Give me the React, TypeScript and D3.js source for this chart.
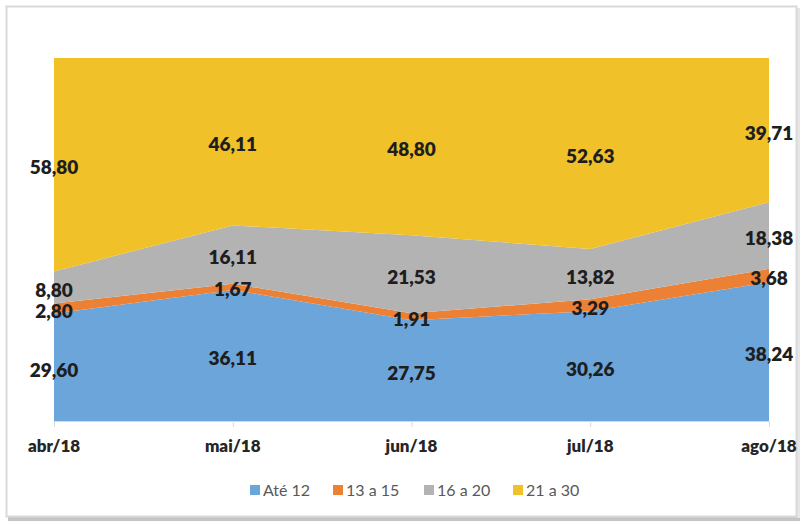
import React from "react";
import * as d3 from "d3";

const months = ["abr/18", "mai/18", "jun/18", "jul/18", "ago/18"];
const seriesNames = ["Até 12", "13 a 15", "16 a 20", "21 a 30"];
const ate12 = [29.6, 36.11, 27.75, 30.26, 38.24];
const a13a15 = [2.8, 1.67, 1.91, 3.29, 3.68];
const a16a20 = [8.8, 16.11, 21.53, 13.82, 18.38];
const a21a30 = [58.8, 46.11, 48.8, 52.63, 39.71];
const colors = ["#6CA5D9", "#EC8034", "#B3B3B3", "#F1C12A"];

const W = 803;
const H = 525;
const plot = { left: 54, right: 769, top: 58, bottom: 421 };

const fmt = (v: number) => v.toFixed(2).replace(".", ",");

export default function App() {
  const seriesValues = [ate12, a13a15, a16a20, a21a30];
  const rows = months.map((m, i) => {
    const r: any = { month: m };
    seriesNames.forEach((s, j) => (r[s] = seriesValues[j][i]));
    return r;
  });
  const stack = d3.stack<any>().keys(seriesNames).offset(d3.stackOffsetExpand);
  const stacked = stack(rows);

  const x = d3.scalePoint<string>().domain(months).range([plot.left, plot.right]);
  const y = d3.scaleLinear().domain([0, 1]).range([plot.bottom, plot.top]);

  const area = d3
    .area<any>()
    .x((d) => x(d.data.month) as number)
    .y0((d) => y(d[0]))
    .y1((d) => y(d[1]));

  const legendX = [250, 333, 424, 513];
  const font = "Lato, 'Open Sans', sans-serif";

  return (
    <svg
      width={W}
      height={H}
      style={{ position: "absolute", left: 0, top: 0, background: "#fff" }}
    >
      <rect x={0} y={0} width={W} height={H} fill="#fff" />
      {/* frame with shadow */}
      <rect x={8} y={516} width={792} height={5} fill="#c4c4c4" />
      <rect x={797} y={8} width={3} height={510} fill="#e6e6e6" />
      <rect x={6.5} y={6.5} width={790} height={510} fill="#fff" stroke="#d9d9d9" strokeWidth={2} />

      {stacked.map((s, i) => (
        <path key={s.key} d={area(s as any) || ""} fill={colors[i]} />
      ))}

      {/* axis */}
      <line x1={plot.left} x2={plot.right} y1={plot.bottom + 0.5} y2={plot.bottom + 0.5} stroke="#d9d9d9" />
      {months.map((m) => (
        <line
          key={"t" + m}
          x1={(x(m) as number) + 0.5}
          x2={(x(m) as number) + 0.5}
          y1={plot.bottom}
          y2={plot.bottom + 6}
          stroke="#d9d9d9"
        />
      ))}
      {months.map((m) => (
        <text
          key={"l" + m}
          x={x(m) as number}
          y={452}
          textAnchor="middle"
          fontFamily={font}
          fontWeight={800}
          fontSize={17}
          fill="#262626"
        >
          {m}
        </text>
      ))}

      {/* data labels */}
      {stacked.map((s, i) =>
        s.map((d: any, j: number) => (
          <text
            key={s.key + j}
            x={x(d.data.month) as number}
            y={(y(d[0]) + y(d[1])) / 2 + 2}
            textAnchor="middle"
            dominantBaseline="central"
            fontFamily={font}
            fontWeight={800}
            fontSize={19}
            fill="#1e1e1e"
          >
            {fmt(seriesValues[i][j])}
          </text>
        ))
      )}

      {/* legend */}
      {seriesNames.map((s, i) => (
        <g key={"lg" + s}>
          <rect x={legendX[i]} y={485} width={10} height={10} fill={colors[i]} />
          <text
            x={legendX[i] + 13}
            y={496}
            fontFamily={font}
            fontSize={16}
            fill="#595959"
          >
            {s}
          </text>
        </g>
      ))}
    </svg>
  );
}
